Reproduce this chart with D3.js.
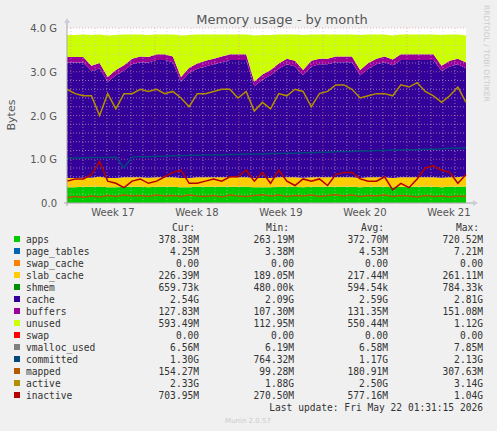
<!DOCTYPE html>
<html>
<head>
<meta charset="utf-8">
<script src="https://cdn.jsdelivr.net/npm/d3@7"></script>
<style>
body { margin: 0; background: #f0f0f0; }
svg { display: block; font-family: "DejaVu Sans", sans-serif; }
.mono { font-family: "DejaVu Sans Mono", monospace; font-size: 9.6px; fill: #333; }
</style>
</head>
<body>
<svg id="chart" width="497" height="431"></svg>
<script>
// values in G, one sample every ~2/3 day
const apps = [0.36,0.36,0.37,0.37,0.38,0.36,0.36,0.37,0.37,0.37,0.36,0.37,0.37,0.37,0.36,0.36,0.37,0.37,0.37,0.37,0.37,0.37,0.37,0.36,0.36,0.36,0.37,0.37,0.37,0.36,0.37,0.37,0.37,0.37,0.37,0.37,0.36,0.37,0.37,0.37,0.36,0.37,0.37,0.37,0.37,0.37,0.36,0.37,0.37,0.38];
const slabCache = [0.21,0.21,0.21,0.21,0.22,0.21,0.21,0.22,0.22,0.22,0.22,0.22,0.22,0.22,0.21,0.21,0.22,0.22,0.22,0.22,0.22,0.22,0.22,0.21,0.21,0.21,0.22,0.22,0.22,0.22,0.22,0.22,0.22,0.22,0.22,0.22,0.21,0.22,0.22,0.22,0.21,0.22,0.22,0.22,0.22,0.22,0.22,0.22,0.22,0.23];
const cache = [2.64,2.64,2.63,2.44,2.48,2.20,2.35,2.44,2.58,2.63,2.63,2.68,2.68,2.63,2.20,2.40,2.48,2.53,2.58,2.63,2.68,2.68,2.68,2.10,2.25,2.35,2.48,2.58,2.53,2.34,2.53,2.58,2.58,2.63,2.63,2.63,2.35,2.48,2.58,2.63,2.58,2.68,2.68,2.68,2.68,2.68,2.44,2.53,2.58,2.47];
const buffers = [0.13,0.13,0.13,0.12,0.12,0.11,0.12,0.12,0.13,0.13,0.13,0.13,0.13,0.13,0.11,0.12,0.12,0.13,0.13,0.13,0.13,0.13,0.13,0.11,0.12,0.12,0.12,0.13,0.13,0.12,0.13,0.13,0.13,0.13,0.13,0.13,0.12,0.13,0.13,0.13,0.13,0.13,0.13,0.13,0.13,0.13,0.12,0.13,0.13,0.13];
const unused = [0.50,0.50,0.51,0.70,0.65,0.95,0.80,0.70,0.55,0.50,0.50,0.45,0.45,0.50,0.95,0.75,0.66,0.60,0.55,0.50,0.45,0.45,0.45,1.05,0.90,0.80,0.66,0.55,0.60,0.80,0.60,0.55,0.55,0.50,0.50,0.50,0.80,0.65,0.55,0.50,0.55,0.45,0.45,0.45,0.45,0.45,0.70,0.60,0.55,0.62];
const committed = [1.02,1.03,1.03,1.04,1.04,1.04,1.05,0.80,1.05,1.06,1.06,1.07,1.07,1.08,1.08,1.09,1.09,1.10,1.10,1.10,1.11,1.11,1.12,1.12,1.12,1.13,1.13,1.14,1.14,1.15,1.15,1.16,1.16,1.17,1.18,1.18,1.19,1.19,1.20,1.20,1.21,1.21,1.22,1.22,1.23,1.23,1.24,1.25,1.25,1.27];
const mapped = [0.12,0.15,0.13,0.16,0.14,0.17,0.15,0.18,0.16,0.17,0.15,0.18,0.16,0.17,0.15,0.18,0.16,0.15,0.17,0.14,0.18,0.16,0.15,0.17,0.19,0.16,0.18,0.15,0.17,0.16,0.18,0.15,0.17,0.19,0.16,0.18,0.15,0.17,0.16,0.18,0.15,0.17,0.16,0.14,0.17,0.15,0.16,0.14,0.16,0.15];
const active = [2.60,2.50,2.45,2.45,2.00,2.50,2.15,2.50,2.50,2.60,2.55,2.60,2.50,2.55,2.40,2.20,2.50,2.50,2.55,2.60,2.60,2.40,2.55,2.10,2.30,2.15,2.50,2.45,2.60,2.55,2.20,2.50,2.55,2.70,2.70,2.60,2.40,2.45,2.50,2.50,2.45,2.70,2.65,2.75,2.55,2.45,2.30,2.45,2.65,2.30];
const inactive = [0.50,0.55,0.55,0.65,0.95,0.50,0.45,0.35,0.50,0.55,0.45,0.50,0.60,0.70,0.75,0.45,0.45,0.50,0.55,0.50,0.60,0.60,0.75,0.50,0.70,0.45,0.75,0.50,0.40,0.55,0.50,0.55,0.40,0.65,0.70,0.70,0.55,0.50,0.50,0.60,0.30,0.45,0.35,0.55,0.80,0.85,0.75,0.70,0.45,0.65];

const weekLabels = ["Week 17","Week 18","Week 19","Week 20","Week 21"];
const weekStarts = [0.33,7.33,14.33,21.33,28.33];
const yTicks = [0,1,2,3,4];
const yTickLabels = ["0.0","1.0 G","2.0 G","3.0 G","4.0 G"];

const legendNames = ["apps","page_tables","swap_cache","slab_cache","shmem","cache","buffers","unused","swap","vmalloc_used","committed","mapped","active","inactive"];
const legendColors = ["#00cc00","#0066b3","#ff8000","#ffcc00","#008f00","#330099","#990099","#ccff00","#ff0000","#808080","#00487d","#b35a00","#b38f00","#b30000"];
const curVals = ["378.38M","4.25M","0.00","226.39M","659.73k","2.54G","127.83M","593.49M","0.00","6.56M","1.30G","154.27M","2.33G","703.95M"];
const minVals = ["263.19M","3.38M","0.00","189.05M","480.00k","2.09G","107.30M","112.95M","0.00","6.19M","764.32M","99.28M","1.88G","270.50M"];
const avgVals = ["372.70M","4.53M","0.00","217.44M","594.54k","2.59G","131.35M","550.44M","0.00","6.58M","1.17G","180.91M","2.50G","577.16M"];
const maxVals = ["720.52M","7.21M","0.00","261.11M","784.33k","2.81G","151.08M","1.12G","0.00","7.85M","2.13G","307.63M","3.14G","1.04G"];

const svg = d3.select("#chart");
const L = 67, R = 466, T = 28, B = 203;
const days = 33.25;
const x = d3.scaleLinear().domain([0, days]).range([L, R]);
const y = d3.scaleLinear().domain([0, 4]).range([B, T]);
const n = apps.length;
const xi = i => x(i * days / (n - 1));

svg.append("rect").attr("x", L).attr("y", T).attr("width", R - L).attr("height", B - T).attr("fill", "#fff");

// stacked areas
const rows = d3.range(n).map(i => ({apps: apps[i], slab: slabCache[i], cache: cache[i], buffers: buffers[i], unused: unused[i]}));
const keys = ["apps", "slab", "cache", "buffers", "unused"];
const keyColors = {apps: "#00cc00", slab: "#ffcc00", cache: "#330099", buffers: "#990099", unused: "#ccff00"};
const series = d3.stack().keys(keys)(rows);
const area = d3.area().x((d, i) => xi(i)).y0(d => y(d[0])).y1(d => y(d[1]));
svg.append("g").selectAll("path").data(series).join("path")
    .attr("d", area).attr("fill", d => keyColors[d.key]);

// grid
const grid = svg.append("g");
d3.range(0, 4.01, 0.2).forEach(v => {
    const major = Math.abs(v - Math.round(v)) < 1e-6;
    grid.append("line").attr("x1", L).attr("x2", R).attr("y1", y(v)).attr("y2", y(v))
        .attr("stroke", major ? "#e09090" : "#c8c8c8").attr("stroke-dasharray", "1,2").attr("stroke-width", 0.6);
});
d3.range(0.33, days, 1).forEach(d => {
    const major = weekStarts.some(w => Math.abs(w - d) < 0.01);
    grid.append("line").attr("x1", x(d)).attr("x2", x(d)).attr("y1", T).attr("y2", B)
        .attr("stroke", major ? "#e09090" : "#c8c8c8").attr("stroke-dasharray", "1,2").attr("stroke-width", 0.6);
});

// lines
const line = arr => d3.line().x((d, i) => xi(i)).y(d => y(d))(arr);
[[mapped, "#b35a00"], [committed, "#00487d"], [active, "#b38f00"], [inactive, "#b30000"]].forEach(([arr, c]) => {
    svg.append("path").attr("d", line(arr)).attr("fill", "none").attr("stroke", c).attr("stroke-width", 1.5);
});

// axes
svg.append("line").attr("x1", L - 3).attr("x2", R + 8).attr("y1", B).attr("y2", B).attr("stroke", "#aaa");
svg.append("line").attr("x1", L).attr("x2", L).attr("y1", B + 3).attr("y2", T - 6).attr("stroke", "#aaa");
svg.append("path").attr("d", `M${R + 12},${B} l-5,-3 v6 z`).attr("fill", "#ccd");
svg.append("path").attr("d", `M${L},${T - 10} l-3,5 h6 z`).attr("fill", "#ccd");

svg.append("g").selectAll("text").data(yTicks).join("text")
    .attr("x", 57).attr("y", d => y(d) + 4).attr("text-anchor", "end")
    .attr("font-size", 10).attr("fill", "#555").text((d, i) => yTickLabels[i]);
svg.append("g").selectAll("text").data(weekLabels).join("text")
    .attr("x", (d, i) => x(weekStarts[i] + 3.5)).attr("y", 216).attr("text-anchor", "middle")
    .attr("font-size", 10).attr("fill", "#555").text(d => d);

svg.append("text").attr("x", 282).attr("y", 24).attr("text-anchor", "middle")
    .attr("font-size", 13).attr("fill", "#555").text("Memory usage - by month");
svg.append("text").attr("transform", "translate(15,115) rotate(-90)").attr("text-anchor", "middle")
    .attr("font-size", 11).attr("fill", "#555").text("Bytes");
svg.append("text").attr("transform", "translate(484,5) rotate(90)")
    .attr("font-size", 7.5).attr("fill", "#ccc").text("RRDTOOL / TOBI OETIKER");

// legend
const lg = svg.append("g");
const hdr = [["Cur:", 172], ["Min:", 266], ["Avg:", 361], ["Max:", 456]];
hdr.forEach(([t, xx]) => lg.append("text").attr("class", "mono").attr("x", xx).attr("y", 231).text(t));
legendNames.forEach((name, i) => {
    const yy = 243 + i * 12;
    lg.append("rect").attr("x", 14).attr("y", yy - 7).attr("width", 6).attr("height", 6).attr("fill", legendColors[i]);
    lg.append("text").attr("class", "mono").attr("x", 26).attr("y", yy).text(name);
    [[curVals, 199], [minVals, 294], [avgVals, 388], [maxVals, 483]].forEach(([arr, xx]) => {
        lg.append("text").attr("class", "mono").attr("x", xx).attr("y", yy).attr("text-anchor", "end").text(arr[i]);
    });
});
lg.append("text").attr("class", "mono").attr("x", 483).attr("y", 411).attr("text-anchor", "end")
    .text("Last update: Fri May 22 01:31:15 2026");
svg.append("text").attr("x", 248).attr("y", 423).attr("text-anchor", "middle")
    .attr("font-size", 7).attr("fill", "#ccc").text("Munin 2.0.57");
</script>
</body>
</html>
